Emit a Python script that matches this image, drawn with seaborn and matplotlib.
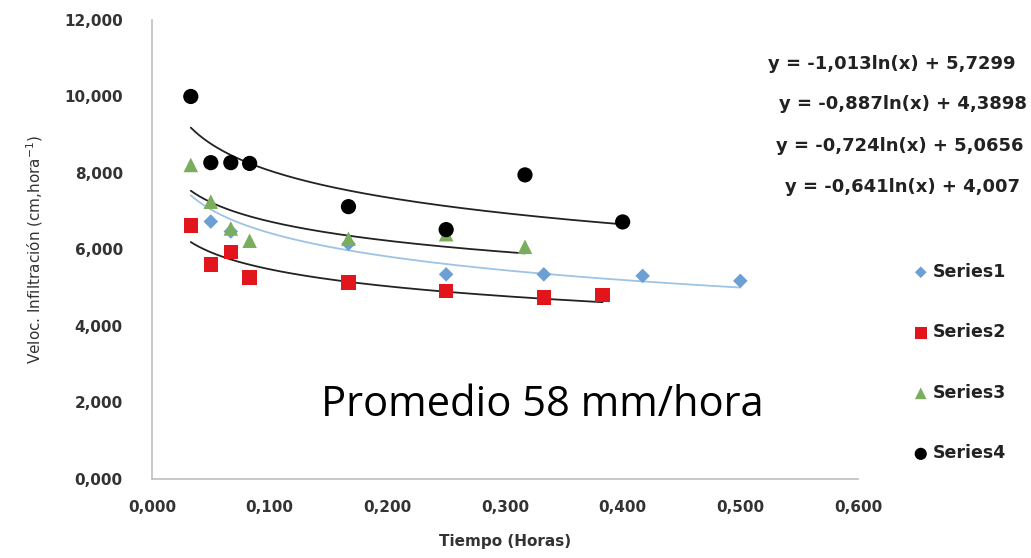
import numpy as np
import pandas as pd
import matplotlib
matplotlib.use("Agg")
import matplotlib.pyplot as plt
from matplotlib.ticker import FuncFormatter, MultipleLocator
import seaborn as sns

# datos (tiempo en horas, velocidad en cm/hora)
t1 = [0.050, 0.067, 0.167, 0.250, 0.333, 0.417, 0.500]
v1 = [6.73, 6.47, 6.15, 5.35, 5.35, 5.31, 5.18]

t2 = [0.033, 0.050, 0.067, 0.083, 0.167, 0.250, 0.333, 0.383]
v2 = [6.62, 5.60, 5.93, 5.27, 5.13, 4.92, 4.74, 4.81]

t3 = [0.033, 0.050, 0.067, 0.083, 0.167, 0.250, 0.317]
v3 = [8.21, 7.25, 6.55, 6.23, 6.28, 6.40, 6.07]

t4 = [0.033, 0.050, 0.067, 0.083, 0.167, 0.250, 0.317, 0.400]
v4 = [10.0, 8.27, 8.27, 8.25, 7.12, 6.52, 7.95, 6.72]

series = ["Series1", "Series2", "Series3", "Series4"]
colores = ["#6C9FD4", "#E2141C", "#7BAE5C", "black"]
marcadores = ["D", "s", "^", "o"]
tamanos = [55, 110, 110, 120]

# tendencias logaritmicas  y = a ln(x) + b
coef_a = [-0.887, -0.641, -0.724, -1.013]
coef_b = [4.3898, 4.007, 5.0656, 5.7299]
x_fin = [0.500, 0.383, 0.317, 0.400]
x_ini = 0.033
ecuaciones = ["y = -1,013ln(x) + 5,7299",
              "y = -0,887ln(x) + 4,3898",
              "y = -0,724ln(x) + 5,0656",
              "y = -0,641ln(x) + 4,007"]

df = pd.concat([
    pd.DataFrame({"t": t, "v": v, "serie": s})
    for t, v, s in zip([t1, t2, t3, t4], [v1, v2, v3, v4], series)
], ignore_index=True)

sns.set_style("white")
plt.rcParams["font.family"] = ["DejaVu Sans"]

fig = plt.figure(figsize=(10.31, 5.58), dpi=100)
ax = fig.add_axes([0.1474, 0.1416, 0.6848, 0.8226])

# lineas de tendencia
colores_linea = ["#9EC3E4", "#222222", "#222222", "#222222"]
for a, b, xf, cl in zip(coef_a, coef_b, x_fin, colores_linea):
    xx = np.linspace(x_ini, xf, 200)
    ax.plot(xx, a * np.log(xx) + b, color=cl, lw=1.3, zorder=1)

for s, c, m, sz in zip(series, colores, marcadores, tamanos):
    sub = df[df["serie"] == s]
    sns.scatterplot(data=sub, x="t", y="v", color=c, marker=m, s=sz,
                    edgecolor="none", label=s, ax=ax, zorder=3)

ax.set_xlim(0, 0.6)
ax.set_ylim(0, 12)
ax.xaxis.set_major_locator(MultipleLocator(0.1))
ax.yaxis.set_major_locator(MultipleLocator(2))
fmt = FuncFormatter(lambda v, p: f"{v:.3f}".replace(".", ","))
ax.xaxis.set_major_formatter(fmt)
ax.yaxis.set_major_formatter(fmt)

for lado in ["top", "right"]:
    ax.spines[lado].set_visible(False)
for lado in ["left", "bottom"]:
    ax.spines[lado].set_color("#BFBFBF")
    ax.spines[lado].set_linewidth(1.2)
ax.tick_params(axis="both", which="major", direction="out", length=5,
               color="#BFBFBF", labelsize=11, labelcolor="#333333")
ax.tick_params(axis="y", pad=16)
ax.tick_params(axis="x", pad=10)
for lbl in ax.get_xticklabels() + ax.get_yticklabels():
    lbl.set_fontweight("bold")

ax.set_xlabel("Tiempo (Horas)", fontsize=11, fontweight="bold", color="#333333", labelpad=14)
ax.set_ylabel("Veloc. Infiltración (cm,hora$^{-1}$)", fontsize=11, color="#333333", labelpad=14)

ax.text(0.332, 1.93, "Promedio 58 mm/hora", fontsize=30, ha="center", va="center",
        color="black", family=["Open Sans", "DejaVu Sans"])

ys_ec = [64, 104, 146, 187]
xs_ec = [1016, 1027, 1023, 1020]
for e, xe, ye in zip(ecuaciones, xs_ec, ys_ec):
    fig.text(xe / 1031, 1 - ye / 558, e, fontsize=13, fontweight="bold",
             ha="right", va="center", color="#222222")

leg = ax.legend(loc="upper left", bbox_to_anchor=(1.052, 0.505), frameon=False,
                fontsize=12.5, labelspacing=2.45, handletextpad=0.1, handlelength=1.2,
                markerscale=0.8)
for txt in leg.get_texts():
    txt.set_fontweight("bold")
    txt.set_color("#222222")

fig.savefig("out.png", dpi=100)
